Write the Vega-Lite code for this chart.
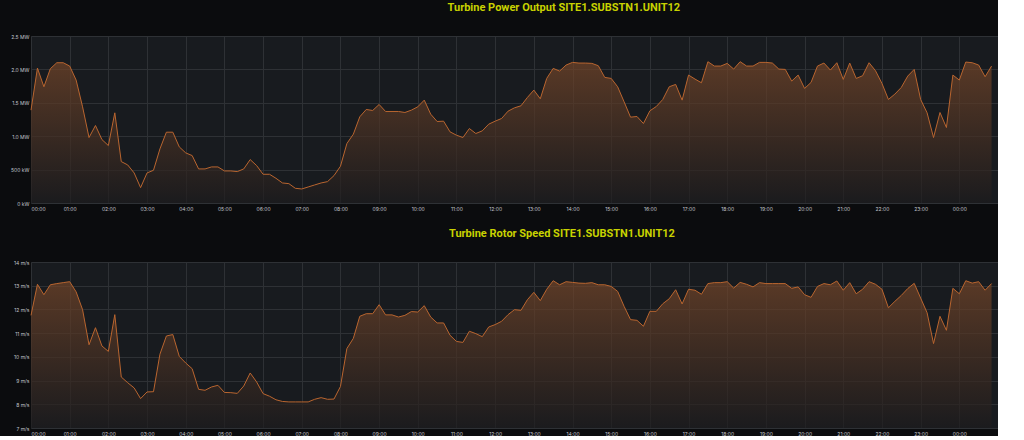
{
  "$schema": "https://vega.github.io/schema/vega-lite/v6.json",
  "background": "#0b0c0e",
  "padding": {"left": 10, "top": 2, "right": 0, "bottom": 0},
  "bounds": "flush",
  "spacing": 59,
  "config": {
    "view": {"fill": "#181b1f", "stroke": null},
    "axis": {"domain": false, "ticks": false, "gridColor": "#2e3135", "gridWidth": 1, "labelColor": "#c2c5cc", "labelFont": "Inter", "labelFontSize": 5, "labelPadding": 3},
    "title": {"anchor": "start", "dx": 437, "color": "#c8d200", "font": "Roboto", "fontWeight": "bold", "fontSize": 11, "baseline": "alphabetic", "offset": 21}
  },
  "data": {"values": [
    {"t":"2023-01-01 00:00","p":1.39,"s":11.75},
    {"t":"2023-01-01 00:10","p":2.02,"s":13.06},
    {"t":"2023-01-01 00:20","p":1.74,"s":12.62},
    {"t":"2023-01-01 00:30","p":2.01,"s":13.04},
    {"t":"2023-01-01 00:40","p":2.10,"s":13.09},
    {"t":"2023-01-01 00:50","p":2.10,"s":13.13},
    {"t":"2023-01-01 01:00","p":2.05,"s":13.17},
    {"t":"2023-01-01 01:10","p":1.84,"s":12.74},
    {"t":"2023-01-01 01:20","p":1.44,"s":11.99},
    {"t":"2023-01-01 01:30","p":0.98,"s":10.51},
    {"t":"2023-01-01 01:40","p":1.16,"s":11.23},
    {"t":"2023-01-01 01:50","p":0.95,"s":10.46},
    {"t":"2023-01-01 02:00","p":0.86,"s":10.23},
    {"t":"2023-01-01 02:10","p":1.35,"s":11.78},
    {"t":"2023-01-01 02:20","p":0.62,"s":9.15},
    {"t":"2023-01-01 02:30","p":0.57,"s":8.91},
    {"t":"2023-01-01 02:40","p":0.45,"s":8.69},
    {"t":"2023-01-01 02:50","p":0.23,"s":8.24},
    {"t":"2023-01-01 03:00","p":0.45,"s":8.52},
    {"t":"2023-01-01 03:10","p":0.49,"s":8.53},
    {"t":"2023-01-01 03:20","p":0.81,"s":10.11},
    {"t":"2023-01-01 03:30","p":1.06,"s":10.88},
    {"t":"2023-01-01 03:40","p":1.06,"s":10.94},
    {"t":"2023-01-01 03:50","p":0.84,"s":10.02},
    {"t":"2023-01-01 04:00","p":0.75,"s":9.74},
    {"t":"2023-01-01 04:10","p":0.71,"s":9.50},
    {"t":"2023-01-01 04:20","p":0.51,"s":8.63},
    {"t":"2023-01-01 04:30","p":0.51,"s":8.59},
    {"t":"2023-01-01 04:40","p":0.54,"s":8.73},
    {"t":"2023-01-01 04:50","p":0.54,"s":8.80},
    {"t":"2023-01-01 05:00","p":0.48,"s":8.50},
    {"t":"2023-01-01 05:10","p":0.48,"s":8.49},
    {"t":"2023-01-01 05:20","p":0.47,"s":8.46},
    {"t":"2023-01-01 05:30","p":0.51,"s":8.77},
    {"t":"2023-01-01 05:40","p":0.65,"s":9.32},
    {"t":"2023-01-01 05:50","p":0.56,"s":8.94},
    {"t":"2023-01-01 06:00","p":0.43,"s":8.45},
    {"t":"2023-01-01 06:10","p":0.43,"s":8.34},
    {"t":"2023-01-01 06:20","p":0.37,"s":8.19},
    {"t":"2023-01-01 06:30","p":0.30,"s":8.12},
    {"t":"2023-01-01 06:40","p":0.29,"s":8.10},
    {"t":"2023-01-01 06:50","p":0.22,"s":8.10},
    {"t":"2023-01-01 07:00","p":0.21,"s":8.10},
    {"t":"2023-01-01 07:10","p":0.24,"s":8.10},
    {"t":"2023-01-01 07:20","p":0.27,"s":8.21},
    {"t":"2023-01-01 07:30","p":0.30,"s":8.28},
    {"t":"2023-01-01 07:40","p":0.32,"s":8.21},
    {"t":"2023-01-01 07:50","p":0.41,"s":8.22},
    {"t":"2023-01-01 08:00","p":0.55,"s":8.75},
    {"t":"2023-01-01 08:10","p":0.89,"s":10.35},
    {"t":"2023-01-01 08:20","p":1.03,"s":10.78},
    {"t":"2023-01-01 08:30","p":1.29,"s":11.71},
    {"t":"2023-01-01 08:40","p":1.40,"s":11.82},
    {"t":"2023-01-01 08:50","p":1.385,"s":11.82},
    {"t":"2023-01-01 09:00","p":1.475,"s":12.20},
    {"t":"2023-01-01 09:10","p":1.37,"s":11.77},
    {"t":"2023-01-01 09:20","p":1.37,"s":11.77},
    {"t":"2023-01-01 09:30","p":1.37,"s":11.68},
    {"t":"2023-01-01 09:40","p":1.355,"s":11.75},
    {"t":"2023-01-01 09:50","p":1.39,"s":11.91},
    {"t":"2023-01-01 10:00","p":1.44,"s":11.89},
    {"t":"2023-01-01 10:10","p":1.54,"s":12.16},
    {"t":"2023-01-01 10:20","p":1.33,"s":11.68},
    {"t":"2023-01-01 10:30","p":1.22,"s":11.43},
    {"t":"2023-01-01 10:40","p":1.225,"s":11.43},
    {"t":"2023-01-01 10:50","p":1.065,"s":10.91},
    {"t":"2023-01-01 11:00","p":1.015,"s":10.65},
    {"t":"2023-01-01 11:10","p":0.98,"s":10.61},
    {"t":"2023-01-01 11:20","p":1.115,"s":11.08},
    {"t":"2023-01-01 11:30","p":1.04,"s":10.98},
    {"t":"2023-01-01 11:40","p":1.08,"s":10.85},
    {"t":"2023-01-01 11:50","p":1.18,"s":11.26},
    {"t":"2023-01-01 12:00","p":1.225,"s":11.36},
    {"t":"2023-01-01 12:10","p":1.265,"s":11.50},
    {"t":"2023-01-01 12:20","p":1.375,"s":11.78},
    {"t":"2023-01-01 12:30","p":1.425,"s":11.99},
    {"t":"2023-01-01 12:40","p":1.455,"s":11.96},
    {"t":"2023-01-01 12:50","p":1.58,"s":12.41},
    {"t":"2023-01-01 13:00","p":1.69,"s":12.72},
    {"t":"2023-01-01 13:10","p":1.56,"s":12.37},
    {"t":"2023-01-01 13:20","p":1.865,"s":12.85},
    {"t":"2023-01-01 13:30","p":2.015,"s":13.21},
    {"t":"2023-01-01 13:40","p":1.975,"s":13.04},
    {"t":"2023-01-01 13:50","p":2.065,"s":13.17},
    {"t":"2023-01-01 14:00","p":2.105,"s":13.14},
    {"t":"2023-01-01 14:10","p":2.095,"s":13.11},
    {"t":"2023-01-01 14:20","p":2.095,"s":13.10},
    {"t":"2023-01-01 14:30","p":2.09,"s":13.13},
    {"t":"2023-01-01 14:40","p":2.055,"s":13.04},
    {"t":"2023-01-01 14:50","p":1.88,"s":13.04},
    {"t":"2023-01-01 15:00","p":1.865,"s":12.97},
    {"t":"2023-01-01 15:10","p":1.74,"s":12.76},
    {"t":"2023-01-01 15:20","p":1.515,"s":12.13},
    {"t":"2023-01-01 15:30","p":1.285,"s":11.57},
    {"t":"2023-01-01 15:40","p":1.295,"s":11.54},
    {"t":"2023-01-01 15:50","p":1.19,"s":11.29},
    {"t":"2023-01-01 16:00","p":1.38,"s":11.92},
    {"t":"2023-01-01 16:10","p":1.445,"s":11.92},
    {"t":"2023-01-01 16:20","p":1.55,"s":12.24},
    {"t":"2023-01-01 16:30","p":1.74,"s":12.45},
    {"t":"2023-01-01 16:40","p":1.775,"s":12.83},
    {"t":"2023-01-01 16:50","p":1.54,"s":12.23},
    {"t":"2023-01-01 17:00","p":1.915,"s":12.85},
    {"t":"2023-01-01 17:10","p":1.855,"s":12.81},
    {"t":"2023-01-01 17:20","p":1.80,"s":12.64},
    {"t":"2023-01-01 17:30","p":2.115,"s":13.09},
    {"t":"2023-01-01 17:40","p":2.05,"s":13.13},
    {"t":"2023-01-01 17:50","p":2.05,"s":13.13},
    {"t":"2023-01-01 18:00","p":2.09,"s":13.17},
    {"t":"2023-01-01 18:10","p":2.005,"s":12.90},
    {"t":"2023-01-01 18:20","p":2.115,"s":13.14},
    {"t":"2023-01-01 18:30","p":2.05,"s":13.06},
    {"t":"2023-01-01 18:40","p":2.05,"s":12.95},
    {"t":"2023-01-01 18:50","p":2.105,"s":13.13},
    {"t":"2023-01-01 19:00","p":2.105,"s":13.09},
    {"t":"2023-01-01 19:10","p":2.095,"s":13.09},
    {"t":"2023-01-01 19:20","p":2.005,"s":13.09},
    {"t":"2023-01-01 19:30","p":2.00,"s":13.09},
    {"t":"2023-01-01 19:40","p":1.825,"s":12.89},
    {"t":"2023-01-01 19:50","p":1.915,"s":12.95},
    {"t":"2023-01-01 20:00","p":1.715,"s":12.62},
    {"t":"2023-01-01 20:10","p":1.805,"s":12.51},
    {"t":"2023-01-01 20:20","p":2.05,"s":12.97},
    {"t":"2023-01-01 20:30","p":2.095,"s":13.09},
    {"t":"2023-01-01 20:40","p":1.99,"s":13.04},
    {"t":"2023-01-01 20:50","p":2.10,"s":13.20},
    {"t":"2023-01-01 21:00","p":1.85,"s":12.81},
    {"t":"2023-01-01 21:10","p":2.095,"s":13.13},
    {"t":"2023-01-01 21:20","p":1.865,"s":12.66},
    {"t":"2023-01-01 21:30","p":1.905,"s":12.85},
    {"t":"2023-01-01 21:40","p":2.10,"s":13.17},
    {"t":"2023-01-01 21:50","p":1.98,"s":13.06},
    {"t":"2023-01-01 22:00","p":1.79,"s":12.85},
    {"t":"2023-01-01 22:10","p":1.55,"s":12.07},
    {"t":"2023-01-01 22:20","p":1.63,"s":12.34},
    {"t":"2023-01-01 22:30","p":1.73,"s":12.59},
    {"t":"2023-01-01 22:40","p":1.90,"s":12.88},
    {"t":"2023-01-01 22:50","p":2.00,"s":13.10},
    {"t":"2023-01-01 23:00","p":1.55,"s":12.48},
    {"t":"2023-01-01 23:10","p":1.35,"s":11.86},
    {"t":"2023-01-01 23:20","p":0.98,"s":10.56},
    {"t":"2023-01-01 23:30","p":1.355,"s":11.71},
    {"t":"2023-01-01 23:40","p":1.13,"s":11.12},
    {"t":"2023-01-01 23:50","p":1.915,"s":12.89},
    {"t":"2023-01-02 00:00","p":1.84,"s":12.66},
    {"t":"2023-01-02 00:10","p":2.11,"s":13.21},
    {"t":"2023-01-02 00:20","p":2.10,"s":13.11},
    {"t":"2023-01-02 00:30","p":2.065,"s":13.17},
    {"t":"2023-01-02 00:40","p":1.89,"s":12.81},
    {"t":"2023-01-02 00:50","p":2.05,"s":13.09}
  ]},
  "vconcat": [
    {
      "width": 967,
      "height": 167,
      "title": {"text": "Turbine Power Output SITE1.SUBSTN1.UNIT12"},
      "mark": {
        "type": "area",
        "interpolate": "linear",
        "color": {"x1": 1, "y1": 1, "x2": 1, "y2": 0, "gradient": "linear", "stops": [{"offset": 0, "color": "#1c1b1d"}, {"offset": 1, "color": "#754629"}]},
        "line": {"color": "#b9652f", "strokeWidth": 1}
      },
      "encoding": {
        "x": {
          "field": "t", "type": "temporal", "title": null,
          "scale": {"domain": [{"year": 2023, "month": 1, "date": 1, "hours": 0}, {"year": 2023, "month": 1, "date": 2, "hours": 1}]},
          "axis": {"format": "%H:%M", "values": [
            {"year": 2023, "month": 1, "date": 1, "hours": 0}, {"year": 2023, "month": 1, "date": 1, "hours": 1}, {"year": 2023, "month": 1, "date": 1, "hours": 2}, {"year": 2023, "month": 1, "date": 1, "hours": 3}, {"year": 2023, "month": 1, "date": 1, "hours": 4}, {"year": 2023, "month": 1, "date": 1, "hours": 5}, {"year": 2023, "month": 1, "date": 1, "hours": 6}, {"year": 2023, "month": 1, "date": 1, "hours": 7}, {"year": 2023, "month": 1, "date": 1, "hours": 8}, {"year": 2023, "month": 1, "date": 1, "hours": 9}, {"year": 2023, "month": 1, "date": 1, "hours": 10}, {"year": 2023, "month": 1, "date": 1, "hours": 11}, {"year": 2023, "month": 1, "date": 1, "hours": 12}, {"year": 2023, "month": 1, "date": 1, "hours": 13}, {"year": 2023, "month": 1, "date": 1, "hours": 14}, {"year": 2023, "month": 1, "date": 1, "hours": 15}, {"year": 2023, "month": 1, "date": 1, "hours": 16}, {"year": 2023, "month": 1, "date": 1, "hours": 17}, {"year": 2023, "month": 1, "date": 1, "hours": 18}, {"year": 2023, "month": 1, "date": 1, "hours": 19}, {"year": 2023, "month": 1, "date": 1, "hours": 20}, {"year": 2023, "month": 1, "date": 1, "hours": 21}, {"year": 2023, "month": 1, "date": 1, "hours": 22}, {"year": 2023, "month": 1, "date": 1, "hours": 23}, {"year": 2023, "month": 1, "date": 2, "hours": 0}
          ]}
        },
        "y": {
          "field": "p", "type": "quantitative", "title": null,
          "scale": {"domain": [0, 2.5]},
          "axis": {"values": [0, 0.5, 1, 1.5, 2, 2.5], "minExtent": 19, "maxExtent": 19, "labelPadding": 2, "labelExpr": "datum.value >= 1 ? format(datum.value, '.1f') + ' MW' : format(datum.value * 1000, 'd') + ' kW'"}
        }
      }
    },
    {
      "width": 967,
      "height": 166,
      "title": {"text": "Turbine Rotor Speed SITE1.SUBSTN1.UNIT12"},
      "mark": {
        "type": "area",
        "interpolate": "linear",
        "color": {"x1": 1, "y1": 1, "x2": 1, "y2": 0, "gradient": "linear", "stops": [{"offset": 0, "color": "#1c1b1d"}, {"offset": 1, "color": "#754629"}]},
        "line": {"color": "#b9652f", "strokeWidth": 1}
      },
      "encoding": {
        "x": {
          "field": "t", "type": "temporal", "title": null,
          "scale": {"domain": [{"year": 2023, "month": 1, "date": 1, "hours": 0}, {"year": 2023, "month": 1, "date": 2, "hours": 1}]},
          "axis": {"format": "%H:%M", "values": [
            {"year": 2023, "month": 1, "date": 1, "hours": 0}, {"year": 2023, "month": 1, "date": 1, "hours": 1}, {"year": 2023, "month": 1, "date": 1, "hours": 2}, {"year": 2023, "month": 1, "date": 1, "hours": 3}, {"year": 2023, "month": 1, "date": 1, "hours": 4}, {"year": 2023, "month": 1, "date": 1, "hours": 5}, {"year": 2023, "month": 1, "date": 1, "hours": 6}, {"year": 2023, "month": 1, "date": 1, "hours": 7}, {"year": 2023, "month": 1, "date": 1, "hours": 8}, {"year": 2023, "month": 1, "date": 1, "hours": 9}, {"year": 2023, "month": 1, "date": 1, "hours": 10}, {"year": 2023, "month": 1, "date": 1, "hours": 11}, {"year": 2023, "month": 1, "date": 1, "hours": 12}, {"year": 2023, "month": 1, "date": 1, "hours": 13}, {"year": 2023, "month": 1, "date": 1, "hours": 14}, {"year": 2023, "month": 1, "date": 1, "hours": 15}, {"year": 2023, "month": 1, "date": 1, "hours": 16}, {"year": 2023, "month": 1, "date": 1, "hours": 17}, {"year": 2023, "month": 1, "date": 1, "hours": 18}, {"year": 2023, "month": 1, "date": 1, "hours": 19}, {"year": 2023, "month": 1, "date": 1, "hours": 20}, {"year": 2023, "month": 1, "date": 1, "hours": 21}, {"year": 2023, "month": 1, "date": 1, "hours": 22}, {"year": 2023, "month": 1, "date": 1, "hours": 23}, {"year": 2023, "month": 1, "date": 2, "hours": 0}
          ]}
        },
        "y": {
          "field": "s", "type": "quantitative", "title": null,
          "scale": {"domain": [7, 14], "zero": false},
          "axis": {"values": [7, 8, 9, 10, 11, 12, 13, 14], "minExtent": 19, "maxExtent": 19, "labelPadding": 2, "labelExpr": "datum.value + ' m/s'"}
        },
        "y2": {"datum": 7}
      }
    }
  ]
}
